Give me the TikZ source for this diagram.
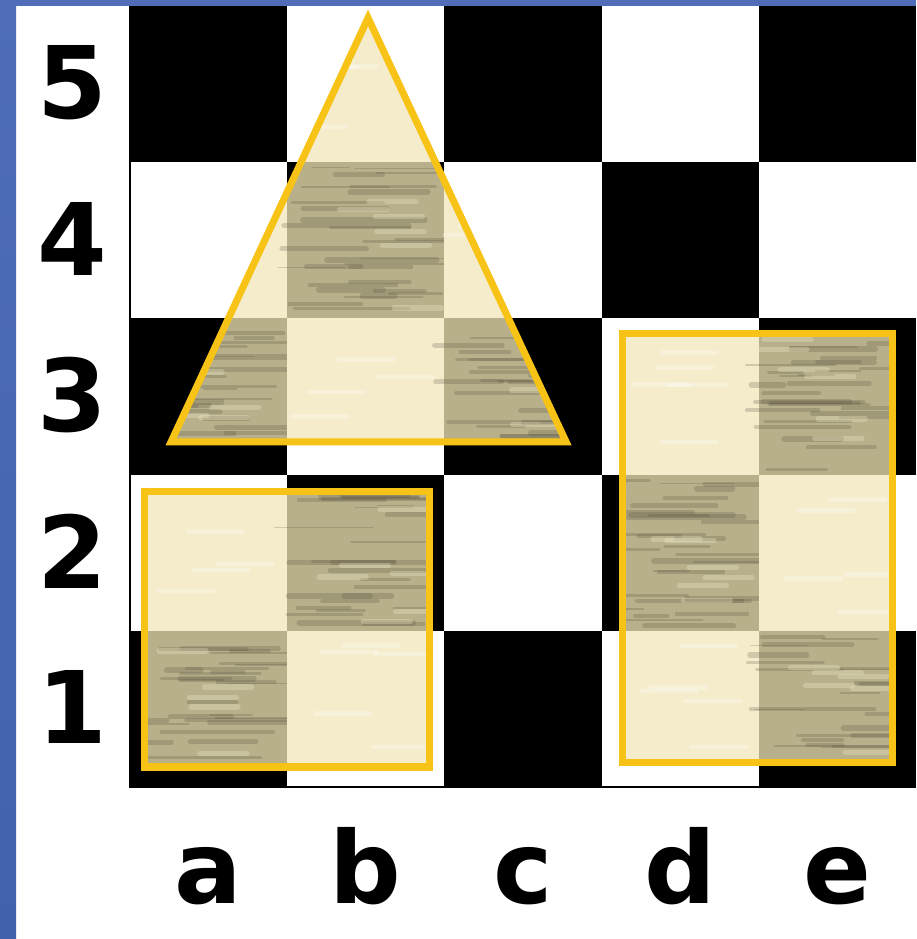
\documentclass[tikz,border=0pt]{standalone}
\usepackage{fontspec}
\setsansfont{DejaVu Sans}
\usetikzlibrary{calc}

\definecolor{slideblue}{HTML}{4F6DB9}
\definecolor{slidedeep}{HTML}{4262AC}
\definecolor{gold}{HTML}{F7C316}
\definecolor{parchment}{HTML}{F4ECCB}
\definecolor{wood}{HTML}{B7B08B}
\definecolor{grain}{HTML}{4F4B38}

\tikzset{
  coordlabel/.style={font=\fontsize{57}{57}\selectfont\sffamily\bfseries, inner sep=0pt},
  outline/.style={draw=gold, line width=4pt},
}

% one highlighted area: squares of the board seen through a clip
\newcommand{\woodpatch}[1]{%
  \begin{scope}
  \clip #1;
  \foreach \i in {0,...,4} \foreach \j in {0,...,4} {
    \pgfmathtruncatemacro{\parity}{mod(\i+\j,2)}
    \ifnum\parity=0
      \fill[wood] (\i,\j) rectangle ++(1,1);
      \foreach \k in {1,...,30} {
        \pgfmathsetmacro{\sx}{\i-0.1+0.8*rnd}
        \pgfmathsetmacro{\sy}{\j+0.03+0.94*rnd}
        \pgfmathsetmacro{\sl}{0.2+0.6*rnd}
        \pgfmathsetmacro{\sw}{0.6+2.8*rnd}
        \draw[grain, opacity=0.22, line width=\sw pt, line cap=round] (\sx,\sy) -- ++(\sl,0);
      }
      \foreach \k in {1,...,6} {
        \pgfmathsetmacro{\sx}{\i+0.7*rnd}
        \pgfmathsetmacro{\sy}{\j+0.05+0.9*rnd}
        \draw[parchment, opacity=0.3, line width=3pt, line cap=round] (\sx,\sy) -- ++(0.3,0);
      }
    \else
      \fill[parchment] (\i,\j) rectangle ++(1,1);
      \foreach \k in {1,...,5} {
        \pgfmathsetmacro{\sx}{\i+0.6*rnd}
        \pgfmathsetmacro{\sy}{\j+0.05+0.9*rnd}
        \draw[white, opacity=0.3, line width=2.5pt, line cap=round] (\sx,\sy) -- ++(0.35,0);
      }
    \fi
  }
  \end{scope}}

\begin{document}
\begin{tikzpicture}[x=3.144cm, y=3.124cm]
\pgfmathsetseed{7}
\useasboundingbox (-0.827,-0.973) rectangle (5.0,5.038);
\fill[white] (-0.827,-0.973) rectangle (5.0,5.038);
%\draw[help lines, step=0.5] (-0.8,-0.9) grid (5,5);

% slide frame
\shade[top color=slideblue, bottom color=slidedeep] (-0.827,-0.973) rectangle (-0.725,5.038);
\fill[slideblue] (-0.827,5.0) rectangle (5.0,5.038);

% board
\foreach \i in {0,...,4} \foreach \j in {0,...,4} {
  \pgfmathtruncatemacro{\parity}{mod(\i+\j,2)}
  \ifnum\parity=0 \fill[black] (\i,\j) rectangle ++(1,1); \fi
}
\draw[line width=1.5pt] (0,5) -- (0,0) -- (5,0);

% the three pieces
\woodpatch{(1.514,4.923) -- (2.774,2.209) -- (0.261,2.209) -- cycle}
\woodpatch{(0.095,0.128) rectangle (1.908,1.889)}
\woodpatch{(3.130,0.154) rectangle (4.847,2.906)}

\draw[outline] (1.514,4.923) -- (2.774,2.209) -- (0.261,2.209) -- cycle;
\draw[outline] (0.095,0.128) rectangle (1.908,1.889);
\draw[outline] (3.130,0.154) rectangle (4.847,2.906);

% ranks and files
\foreach \r in {1,...,5}
  \node[coordlabel] (r\r) at (-0.369,\r-0.49) {\r};
\foreach \f [count=\i from 0] in {a,b,c,d,e}
  \node[coordlabel, anchor=base] (f\f) at (\i+0.5,-0.743) {\f};

\end{tikzpicture}
\end{document}
